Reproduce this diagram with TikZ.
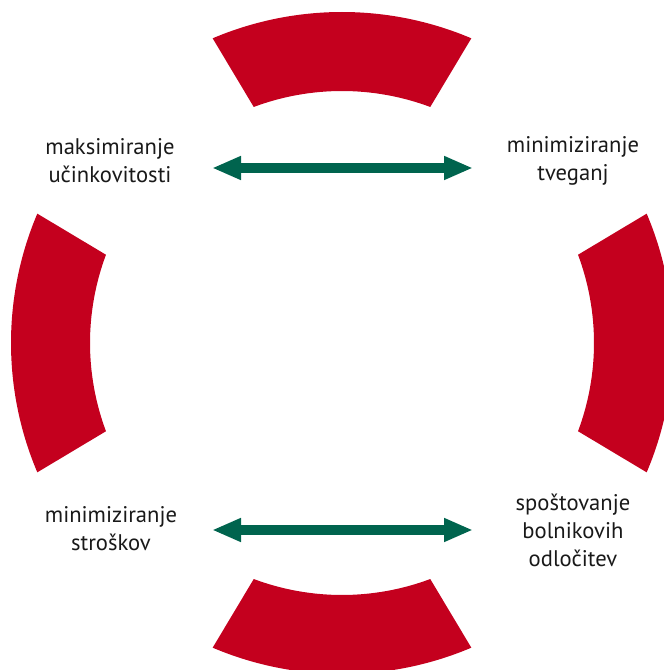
\documentclass[tikz,border=0pt]{standalone}
\usepackage{fontspec}
\setmainfont{PT Sans}
\usetikzlibrary{arrows.meta,positioning,calc}
\definecolor{ringred}{RGB}{196,0,30}
\definecolor{arrowgreen}{RGB}{0,100,78}
\tikzstyle{goal} = [align=center, inner sep=0pt, text=black!90,
    font=\fontsize{22.6}{28}\selectfont]
\tikzstyle{band} = [fill=ringred]
\tikzstyle{line} = [draw, arrowgreen, line width=10pt,
    {Triangle[length=29pt,width=22pt]}-{Triangle[length=29pt,width=22pt]}]

\begin{document}
\begin{tikzpicture}[x=1pt, y=1pt]
        \useasboundingbox (0,0) rectangle (664,670);
        \coordinate (mid) at (342,327);

        % Ring pieces
        \foreach \a in {0,90,180,270}
            \fill [band] ($(mid)+(\a-23:331)$) arc [start angle=\a-23, end angle=\a+23, radius=331pt]
                -- ($(mid)+(\a+20.5:252)$) arc [start angle=\a+20.5, end angle=\a-20.5, radius=252pt] -- cycle;

        % Place nodes
        \node [goal] (effic) at (110,509) {maksimiranje\\učinkovitosti};
        \node [goal] (risk) at (573,509) {minimiziranje\\tveganj};
        \node [goal] (cost) at (111,141) {minimiziranje\\stroškov};
        \node [goal] (decis) at (573,140) {spoštovanje\\bolnikovih\\odločitev};
        \coordinate (tl) at (212,502);
        \coordinate (tr) at (473,502);
        \coordinate (bl) at (212,140);
        \coordinate (br) at (473,140);

        % Draw edges
        \path [line] (tl) -- (tr);
        \path [line] (bl) -- (br);
    \end{tikzpicture}
\end{document}
